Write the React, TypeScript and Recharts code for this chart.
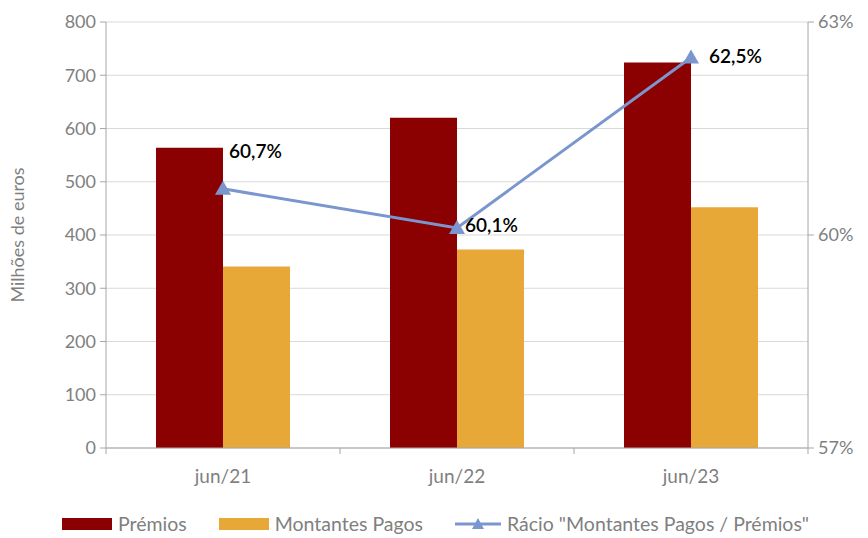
import { ComposedChart, Bar, Line, XAxis, YAxis, CartesianGrid, Legend } from 'recharts';

const periods = ['jun/21', 'jun/22', 'jun/23'];
const premios = [564, 620, 724];
const montantesPagos = [341, 373, 452];
const racio = [60.65, 60.1, 62.5];
const racioLabels = ['60,7%', '60,1%', '62,5%'];

const leftTicks = [0, 100, 200, 300, 400, 500, 600, 700, 800];
const rightTicks = [57, 60, 63];

const RED = '#8B0000';
const GOLD = '#E8A838';
const BLUE = '#7B96CE';
const AXIS = '#A6A6A6';
const TEXT = '#7F7F7F';
const FONT = 'Lato, "Noto Sans", sans-serif';

const data = periods.map((p, i) => ({
  period: p,
  premios: premios[i],
  montantes: montantesPagos[i],
  racio: racio[i],
}));

// label offsets relative to the point, per category
const labelOffsets = [
  { dx: 6, dy: -36 },
  { dx: 8, dy: -1 },
  { dx: 18, dy: 1 },
];

function RacioLabel(props: any) {
  const { x, y, index } = props;
  const o = labelOffsets[index] || { dx: 5, dy: 0 };
  return (
    <text x={x + o.dx} y={y + o.dy} dominantBaseline="middle" fontSize={19} fontWeight={600} fill="#000" fontFamily={FONT}>
      {racioLabels[index]}
    </text>
  );
}

function CategoryTick(props: any) {
  const { x, y, payload, index } = props;
  const half = payload && payload.offset ? payload.offset : 117;
  return (
    <g>
      <line x1={x - half} x2={x - half} y1={y - 8} y2={y - 2} stroke={AXIS} />
      {index === periods.length - 1 && <line x1={x + half} x2={x + half} y1={y - 8} y2={y - 2} stroke={AXIS} />}
      <text x={x} y={y + 27} textAnchor="middle" fontSize={19} fill={TEXT} fontFamily={FONT}>
        {payload.value}
      </text>
    </g>
  );
}

function LegendContent() {
  const item = { display: 'flex', alignItems: 'center', marginRight: 32 } as const;
  const txt = { fontSize: 19.5, color: TEXT, fontFamily: FONT, marginLeft: 6 } as const;
  return (
    <div style={{ display: 'flex', alignItems: 'center', paddingLeft: 62 }}>
      <div style={item}>
        <div style={{ width: 50, height: 12, background: RED }} />
        <span style={txt}>Prémios</span>
      </div>
      <div style={item}>
        <div style={{ width: 50, height: 12, background: GOLD }} />
        <span style={txt}>Montantes Pagos</span>
      </div>
      <div style={item}>
        <svg width={46} height={16}>
          <line x1={0} x2={46} y1={8} y2={8} stroke={BLUE} strokeWidth={3} />
          <polygon points="23,2 29,13 17,13" fill={BLUE} />
        </svg>
        <span style={txt}>Rácio "Montantes Pagos / Prémios"</span>
      </div>
    </div>
  );
}

function Triangle(props: any) {
  const { cx, cy } = props;
  if (cx == null || cy == null) return null;
  return <polygon points={`${cx},${cy - 8} ${cx + 8},${cy + 6} ${cx - 8},${cy + 6}`} fill={BLUE} />;
}

export default function App() {
  return (
    <div style={{ position: 'absolute', left: 0, top: 0, width: 868, height: 538, background: '#fff' }}>
      <ComposedChart
        width={868}
        height={538}
        data={data}
        margin={{ top: 22, right: 0, left: 0, bottom: 27 }}
        barGap={0}
        barCategoryGap={50}
      >
        <CartesianGrid vertical={false} stroke="#D9D9D9" yAxisId="left" />
        <XAxis
          dataKey="period"
          height={40}
          stroke={AXIS}
          tickLine={false}
          tick={<CategoryTick />}
          interval={0}
        />
        <YAxis
          yAxisId="left"
          width={106}
          domain={[0, 800]}
          ticks={leftTicks}
          stroke={AXIS}
          tickSize={6}
          tick={{ fontSize: 18, fill: TEXT, fontFamily: FONT }}
          tickMargin={4}
          label={{ value: 'Milhões de euros', angle: -90, position: 'insideLeft', offset: 18, style: { fontSize: 18, fill: TEXT, fontFamily: FONT, textAnchor: 'middle' } }}
        />
        <YAxis
          yAxisId="right"
          orientation="right"
          width={60}
          domain={[57, 63]}
          ticks={rightTicks}
          tickFormatter={(v: number) => `${v}%`}
          stroke={AXIS}
          tickSize={6}
          tick={{ fontSize: 18, fill: TEXT, fontFamily: FONT }}
          tickMargin={4}
        />
        <Bar yAxisId="left" dataKey="premios" name="Prémios" fill={RED} isAnimationActive={false} />
        <Bar yAxisId="left" dataKey="montantes" name="Montantes Pagos" fill={GOLD} isAnimationActive={false} />
        <Line
          yAxisId="right"
          dataKey="racio"
          name='Rácio "Montantes Pagos / Prémios"'
          stroke={BLUE}
          strokeWidth={3}
          dot={<Triangle />}
          activeDot={false}
          label={<RacioLabel />}
          isAnimationActive={false}
        />
        <Legend verticalAlign="bottom" content={<LegendContent />} wrapperStyle={{ bottom: 3 }} />
      </ComposedChart>
    </div>
  );
}
